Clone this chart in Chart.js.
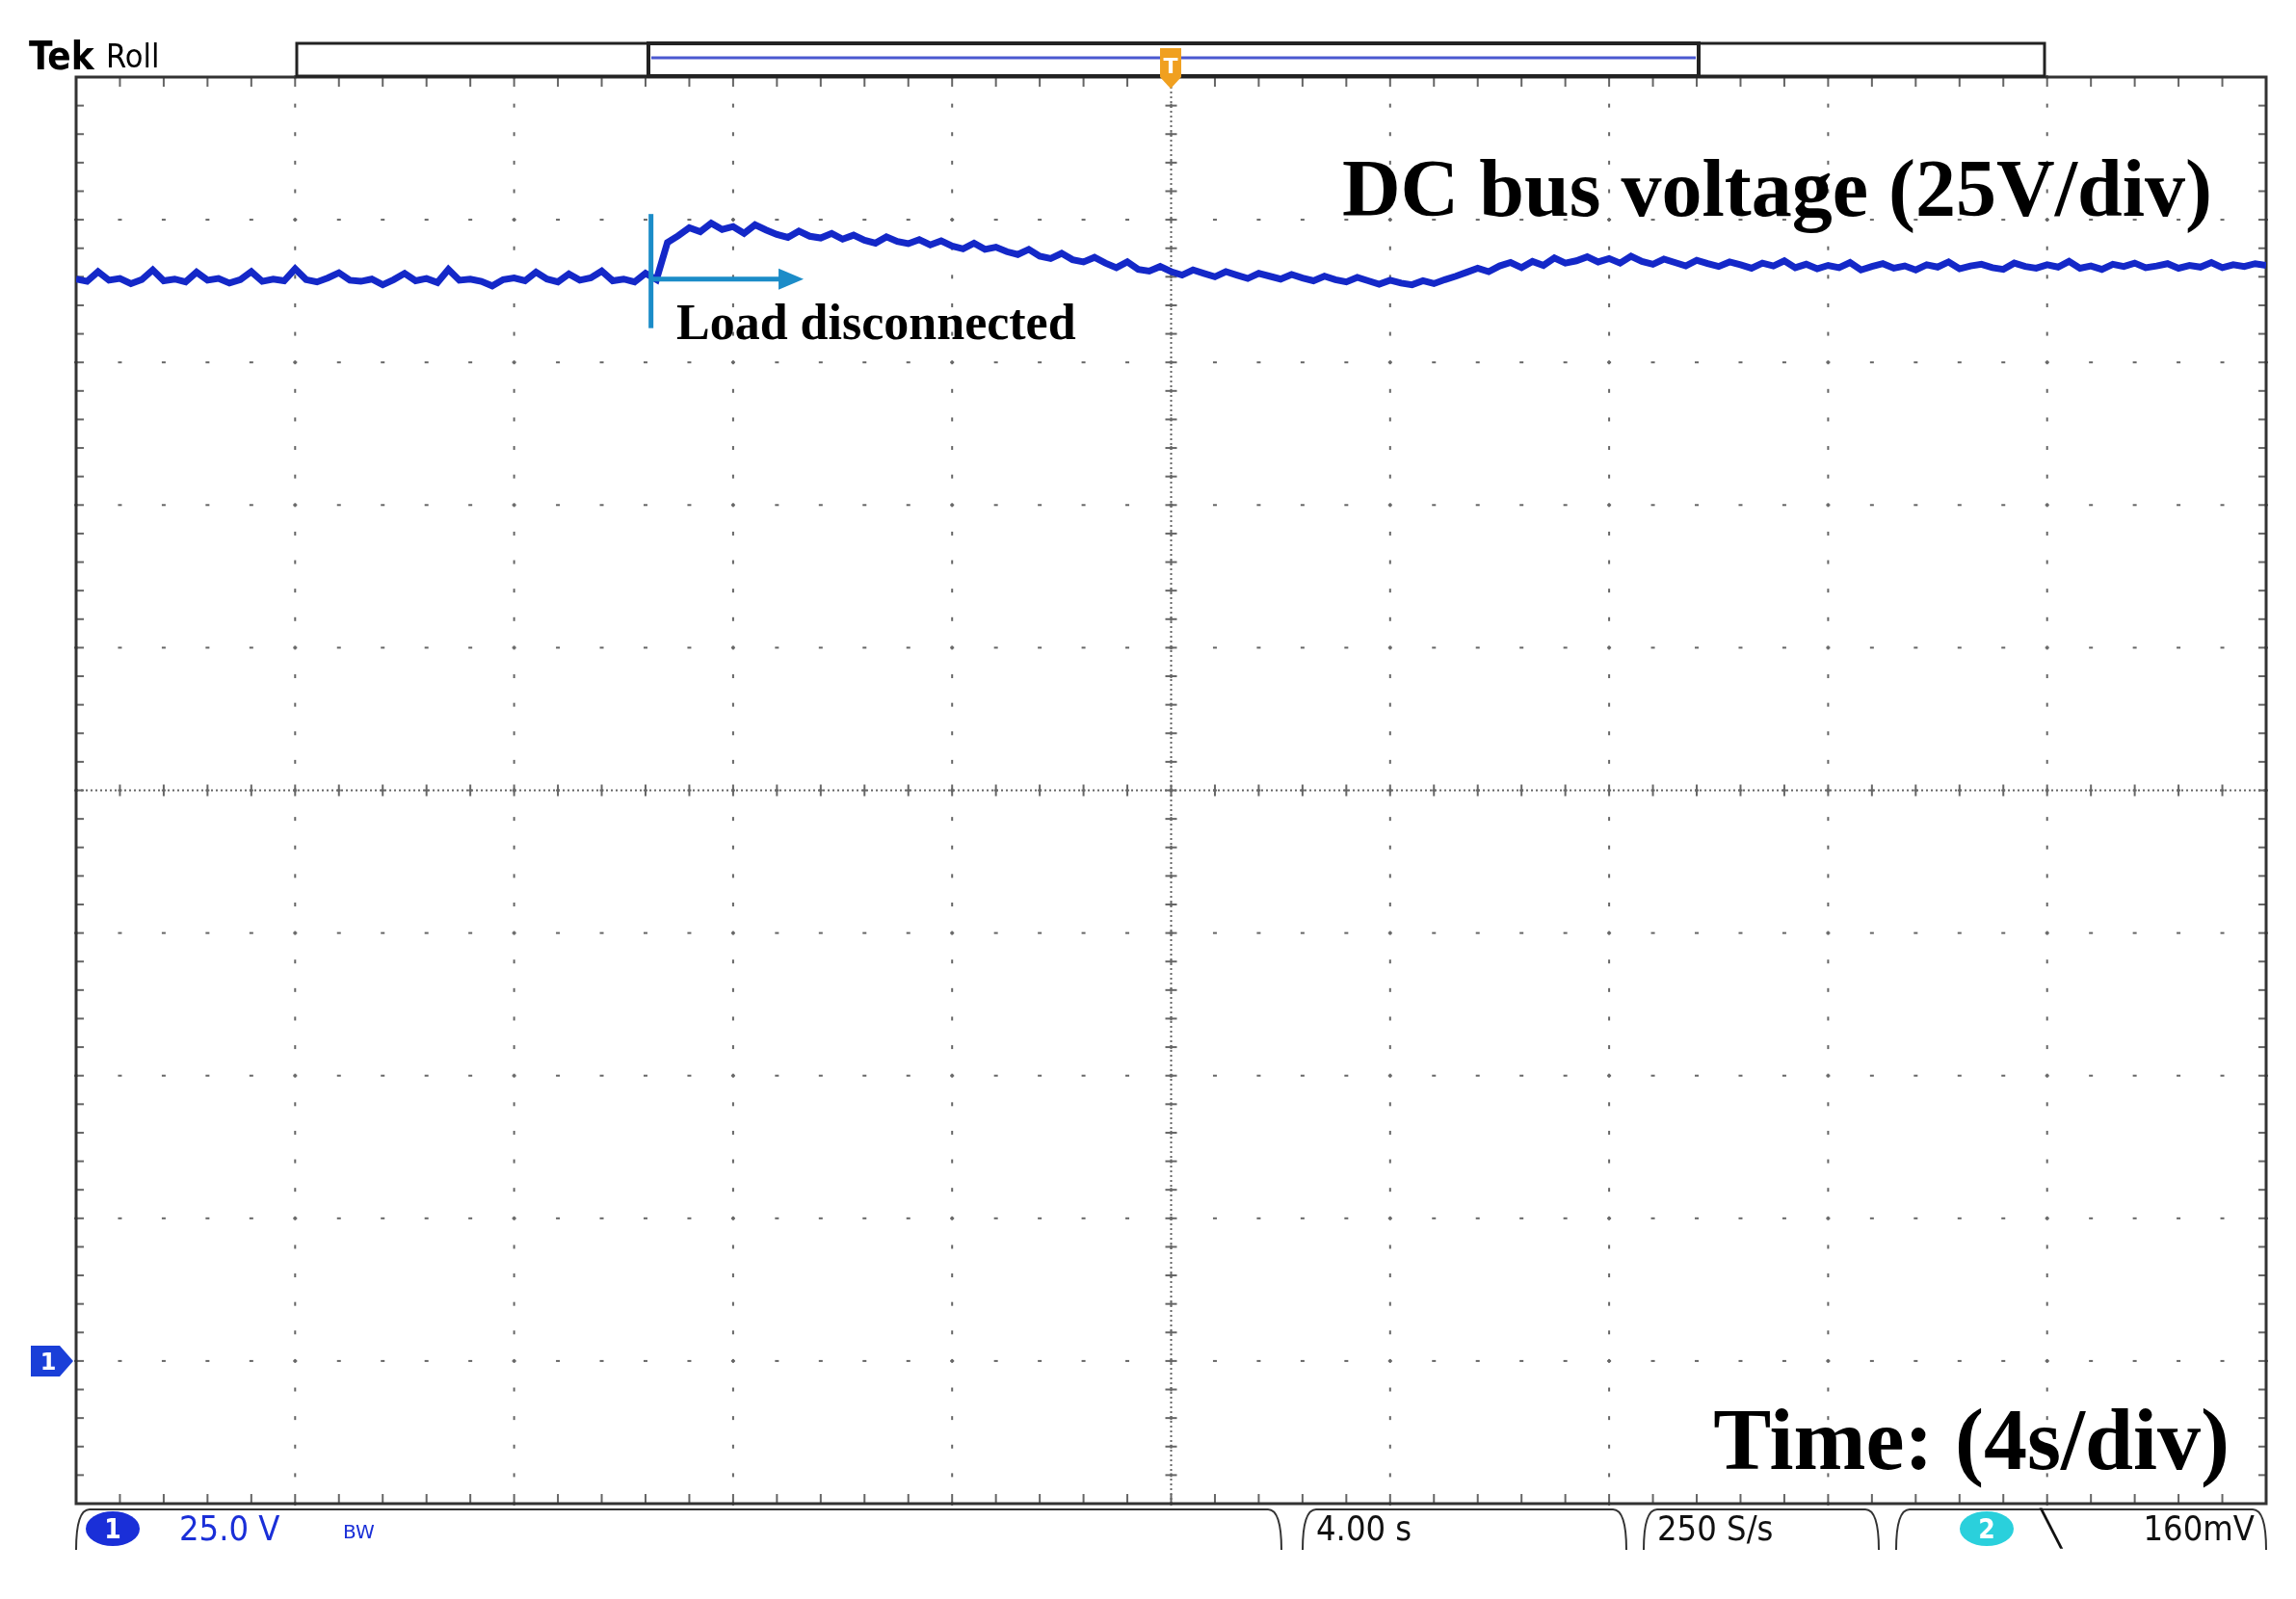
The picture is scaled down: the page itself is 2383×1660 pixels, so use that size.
<!DOCTYPE html>
<html><head><meta charset="utf-8">
<script src="https://cdn.jsdelivr.net/npm/chart.js@4/dist/chart.umd.min.js"></script>
<style>html,body{margin:0;background:#fff}canvas{display:block}</style>
</head><body>
<div style="width:2383px;height:1660px"><canvas id="c"></canvas></div>
<script>
// scope settings: 4 s/div, 25 V/div, ground marker 1 div above bottom
const SEC_PER_DIV = 4;
const VOLT_PER_DIV = 25;
const STEP = 0.2; // seconds between samples

// DC bus voltage samples (V), one every 0.2 s from 0 to 40 s
const busVoltage = [
  189.6,189.2,190.9,189.4,189.7,188.8,189.5,191.2,189.3,189.6,
  189.1,190.8,189.4,189.7,188.9,189.5,190.9,189.2,189.6,189.3,
  191.4,189.5,189.1,189.8,190.7,189.4,189.2,189.6,188.6,189.5,
  190.6,189.3,189.7,189.0,191.3,189.4,189.6,189.2,188.4,189.5,
  189.8,189.3,190.8,189.6,189.1,190.5,189.4,189.8,191.0,189.3,
  189.6,189.1,190.6,189.5,196.0,197.2,198.6,197.9,199.4,198.3,
  198.8,197.6,199.1,198.2,197.4,196.9,198.0,197.1,196.8,197.6,
  196.6,197.3,196.4,195.9,197.0,196.2,195.8,196.5,195.6,196.3,
  195.4,194.9,195.9,194.8,195.2,194.4,193.9,194.8,193.6,193.2,
  194.1,193.0,192.6,193.4,192.4,191.6,192.6,191.3,191.0,191.8,
  190.9,190.3,191.2,190.6,190.0,190.9,190.3,189.7,190.6,190.1,
  189.6,190.4,189.8,189.3,190.1,189.5,189.1,189.9,189.3,188.7,
  189.4,188.9,188.6,189.3,188.8,189.5,190.1,190.8,191.5,190.9,
  191.9,192.5,191.6,192.7,192.0,193.3,192.4,192.8,193.5,192.6,
  193.2,192.4,193.6,192.7,192.2,193.1,192.5,191.9,192.9,192.3,
  191.8,192.6,192.1,191.5,192.4,191.9,192.8,191.6,192.2,191.4,
  192.0,191.6,192.5,191.2,191.8,192.3,191.5,191.9,191.2,192.1,
  191.7,192.6,191.4,191.9,192.2,191.6,191.3,192.4,191.8,191.5,
  192.1,191.7,192.7,191.5,191.9,191.3,192.2,191.8,192.4,191.6,
  191.9,192.3,191.5,192.0,191.7,192.5,191.6,192.1,191.8,192.3,192.0
];
const eventTime = 10.5; // load disconnected (s)

const points = busVoltage.map((v, i) => ({ x: i * STEP, y: v }));

const scope = {
  id: 'scope',
  beforeDatasetsDraw(chart) {
    const { ctx, chartArea: a, scales: { x, y } } = chart;
    ctx.save();
    ctx.fillStyle = '#666';
    // major graticule as dotted lines (dots at each minor division)
    for (let d = 1; d < 10; d++) {
      const px = x.getPixelForValue(d * SEC_PER_DIV);
      for (let m = 0; m <= 50; m++) {
        const py = a.top + (a.bottom - a.top) * m / 50;
        ctx.fillRect(px - 1, py - 2, 2, 4);
      }
    }
    for (let d = 1; d < 10; d++) {
      const py = y.getPixelForValue(d * VOLT_PER_DIV - VOLT_PER_DIV);
      for (let m = 0; m <= 50; m++) {
        const px = a.left + (a.right - a.left) * m / 50;
        ctx.fillRect(px - 2, py - 1, 4, 2);
      }
    }
    // centre cross: dense dots and ticks
    const cx = x.getPixelForValue(5 * SEC_PER_DIV);
    const cy = y.getPixelForValue(4 * VOLT_PER_DIV);
    for (let px = a.left; px <= a.right; px += 5) ctx.fillRect(px, cy - 1, 2, 2);
    for (let py = a.top; py <= a.bottom; py += 5) ctx.fillRect(cx - 1, py, 2, 2);
    for (let m = 0; m <= 50; m++) {
      const px = a.left + (a.right - a.left) * m / 50;
      ctx.fillRect(px - 1, cy - 6, 2, 12);
      ctx.fillRect(px - 1, a.top, 2, 10);
      ctx.fillRect(px - 1, a.bottom - 10, 2, 10);
      const py = a.top + (a.bottom - a.top) * m / 50;
      ctx.fillRect(cx - 6, py - 1, 12, 2);
      ctx.fillRect(a.left, py - 1, 8, 2);
      ctx.fillRect(a.right - 8, py - 1, 8, 2);
    }
    // frame
    ctx.strokeStyle = '#333';
    ctx.lineWidth = 3;
    ctx.strokeRect(a.left, a.top, a.right - a.left, a.bottom - a.top);
    ctx.restore();
  },
  afterDatasetsDraw(chart) {
    const { ctx, chartArea: a, scales: { x, y } } = chart;
    ctx.save();
    // event marker and arrow
    const ex = x.getPixelForValue(eventTime);
    ctx.strokeStyle = '#1b8cc8';
    ctx.fillStyle = '#1b8cc8';
    ctx.lineWidth = 5;
    ctx.beginPath();
    ctx.moveTo(ex, y.getPixelForValue(201)); ctx.lineTo(ex, y.getPixelForValue(181)); ctx.stroke();
    const ay = y.getPixelForValue(189.6);
    const ax2 = x.getPixelForValue(12.9);
    ctx.beginPath(); ctx.moveTo(ex, ay); ctx.lineTo(ax2, ay); ctx.stroke();
    ctx.beginPath(); ctx.moveTo(ax2 + 22, ay); ctx.lineTo(ax2 - 4, ay - 11); ctx.lineTo(ax2 - 4, ay + 11); ctx.closePath(); ctx.fill();

    ctx.fillStyle = '#000';
    ctx.font = 'bold 52px "Liberation Serif"';
    ctx.textBaseline = 'alphabetic';
    ctx.fillText('Load disconnected', 702, 352);
    ctx.font = 'bold 84px "Liberation Serif"';
    ctx.textAlign = 'right';
    ctx.fillText('DC bus voltage (25V/div)', 2296, 224);
    ctx.font = 'bold 90px "Liberation Serif"';
    ctx.fillText('Time: (4s/div)', 2314, 1525);

    // top header
    ctx.textAlign = 'left';
    ctx.font = 'bold 40px "DejaVu Sans Condensed", "DejaVu Sans"';
    ctx.fillText('Tek', 30, 72);
    ctx.font = '34px "DejaVu Sans Condensed", "DejaVu Sans"';
    ctx.fillText('Roll', 110, 70);
    ctx.strokeStyle = '#222'; ctx.lineWidth = 3;
    ctx.strokeRect(308, 45, 1814, 34);
    ctx.lineWidth = 4;
    ctx.strokeRect(673, 45, 1090, 34);
    ctx.strokeStyle = '#4a58d0'; ctx.lineWidth = 3;
    ctx.beginPath(); ctx.moveTo(676, 60); ctx.lineTo(1760, 60); ctx.stroke();
    // trigger marker
    ctx.fillStyle = '#f0a020';
    ctx.beginPath(); ctx.moveTo(1204, 50); ctx.lineTo(1226, 50); ctx.lineTo(1226, 80); ctx.lineTo(1215, 92); ctx.lineTo(1204, 80); ctx.closePath(); ctx.fill();
    ctx.fillStyle = '#fff'; ctx.font = 'bold 22px "DejaVu Sans"'; ctx.textAlign = 'center';
    ctx.fillText('T', 1215, 76);

    // ground marker for channel 1
    const gy = y.getPixelForValue(0);
    ctx.fillStyle = '#1a3fd8';
    ctx.beginPath(); ctx.moveTo(32, gy - 16); ctx.lineTo(62, gy - 16); ctx.lineTo(76, gy); ctx.lineTo(62, gy + 16); ctx.lineTo(32, gy + 16); ctx.closePath(); ctx.fill();
    ctx.fillStyle = '#fff'; ctx.font = 'bold 24px "DejaVu Sans"';
    ctx.fillText('1', 50, gy + 9);

    // bottom status bar
    ctx.strokeStyle = '#333'; ctx.lineWidth = 2;
    const top = a.bottom + 6;
    const boxes = [[79, 1330], [1352, 1688], [1706, 1950], [1968, 2352]];
    boxes.forEach(([l, r]) => {
      ctx.beginPath();
      ctx.moveTo(l, top + 42); ctx.quadraticCurveTo(l, top, l + 14, top);
      ctx.lineTo(r - 14, top); ctx.quadraticCurveTo(r, top, r, top + 42); ctx.stroke();
    });
    const ty = top + 30;
    ctx.fillStyle = '#1a2fd8';
    ctx.beginPath(); ctx.ellipse(117, ty - 10, 28, 18, 0, 0, Math.PI * 2); ctx.fill();
    ctx.fillStyle = '#2ad0dc';
    ctx.beginPath(); ctx.ellipse(2062, ty - 10, 28, 18, 0, 0, Math.PI * 2); ctx.fill();
    ctx.fillStyle = '#fff'; ctx.font = 'bold 28px "DejaVu Sans Condensed"';
    ctx.fillText('1', 117, ty); ctx.fillText('2', 2062, ty);
    ctx.textAlign = 'left';
    ctx.font = '36px "DejaVu Sans Condensed", "DejaVu Sans"';
    ctx.fillStyle = '#1a2fd8';
    ctx.fillText('25.0 V', 186, ty + 2);
    ctx.font = '20px "DejaVu Sans"';
    ctx.fillText('BW', 356, ty);
    ctx.fillStyle = '#111';
    ctx.font = '36px "DejaVu Sans Condensed", "DejaVu Sans"';
    ctx.fillText('4.00 s', 1366, ty + 2);
    ctx.fillText('250 S/s', 1720, ty + 2);
    ctx.font = 'bold 36px "DejaVu Sans"';
    ctx.fillText('\u2572', 2118, ty + 2);
    ctx.textAlign = 'right';
    ctx.font = '36px "DejaVu Sans Condensed", "DejaVu Sans"';
    ctx.fillText('160mV', 2340, ty + 2);
    ctx.restore();
  }
};

new Chart(document.getElementById('c'), {
  type: 'line',
  data: { datasets: [{ data: points, borderColor: '#1428c8', borderWidth: 7, pointRadius: 0, tension: 0 }] },
  options: {
    responsive: true, maintainAspectRatio: false, animation: false,
    layout: { padding: { left: 79, right: 31, top: 80, bottom: 99 } },
    plugins: { legend: { display: false }, tooltip: { enabled: false } },
    scales: {
      x: { type: 'linear', min: 0, max: 10 * SEC_PER_DIV, display: false },
      y: { min: -VOLT_PER_DIV, max: 9 * VOLT_PER_DIV, display: false }
    }
  },
  plugins: [scope]
});
</script>
</body></html>
